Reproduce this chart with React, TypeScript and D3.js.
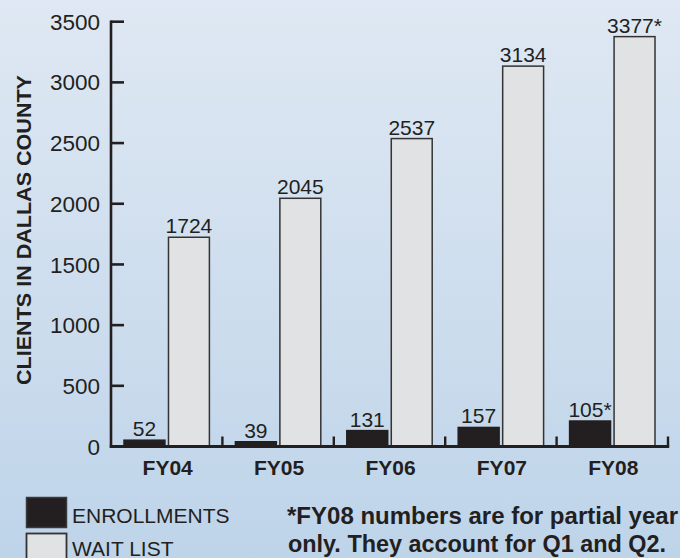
import React from "react";
import * as d3 from "d3";

const categories = ["FY04", "FY05", "FY06", "FY07", "FY08"];
const series = ["ENROLLMENTS", "WAIT LIST"];
const enrollmentBars = [52, 39, 131, 157, 210];
const enrollmentLabels = ["52", "39", "131", "157", "105*"];
const waitListBars = [1724, 2045, 2537, 3134, 3377];
const waitListLabels = ["1724", "2045", "2537", "3134", "3377*"];
const yTicks = [0, 500, 1000, 1500, 2000, 2500, 3000, 3500];
const yTitle = "CLIENTS IN DALLAS COUNTY";
const footnote = ["*FY08 numbers are for partial year", "only. They account for Q1 and Q2."];

const W = 680;
const H = 558;
const FONT = "'Liberation Sans', Arial, Helvetica, sans-serif";
const INK = "#231f20";
const LIGHT = "#e1e2e4";

export default function App() {
  const x0 = 111;
  const x1 = 668;
  const yBase = 446.5;
  const yTop = 21.7;

  const y = d3.scaleLinear().domain([0, 3500]).range([yBase, yTop]);
  const xBand = d3.scaleBand().domain(categories).range([x0, x1]).paddingInner(0).paddingOuter(0);
  const bw = xBand.bandwidth();
  const inner = d3.scaleBand().domain(series).range([13, bw - 13]).paddingInner(0.08).paddingOuter(0);
  const barW = inner.bandwidth();

  const data = categories.map((c, i) => ({
    c,
    vals: [
      { s: series[0], v: enrollmentBars[i], label: enrollmentLabels[i] },
      { s: series[1], v: waitListBars[i], label: waitListLabels[i] },
    ],
  }));

  const boundaries = categories.map((c) => (xBand(c) as number) + bw);

  return (
    <svg
      width={W}
      height={H}
      viewBox={`0 0 ${W} ${H}`}
      style={{ position: "absolute", left: 0, top: 0, display: "block" }}
      fontFamily={FONT}
    >
      <defs>
        <linearGradient id="bg" x1="0" y1="0" x2="0" y2="1">
          <stop offset="0" stopColor="#dfe8f3" />
          <stop offset="1" stopColor="#bed4e9" />
        </linearGradient>
      </defs>
      <rect x={0} y={0} width={W} height={H} fill="url(#bg)" />

      {/* bars */}
      {data.map((d) => (
        <g key={d.c} transform={`translate(${xBand(d.c)},0)`}>
          {d.vals.map((b, j) => {
            const bx = inner(b.s) as number;
            const top = y(b.v);
            return (
              <g key={b.s}>
                <rect
                  x={bx}
                  y={top}
                  width={barW}
                  height={yBase - top}
                  fill={j === 0 ? INK : LIGHT}
                  stroke={j === 0 ? INK : "#333"}
                  strokeWidth={1.5}
                />
                <text
                  x={bx + barW / 2}
                  y={top - 4}
                  textAnchor="middle"
                  fontSize={21}
                  fill={INK}
                >
                  {b.label}
                </text>
              </g>
            );
          })}
        </g>
      ))}

      {/* y axis */}
      <line x1={x0} x2={x0} y1={yTop - 1.2} y2={yBase + 1.2} stroke={INK} strokeWidth={2.6} />
      {yTicks.map((t) => (
        <g key={t}>
          <line x1={x0} x2={x0 + 13} y1={y(t)} y2={y(t)} stroke={INK} strokeWidth={2.6} />
          <text x={100} y={y(t)} dy="0.36em" textAnchor="end" fontSize={22.5} fill={INK}>
            {t}
          </text>
        </g>
      ))}

      {/* x axis */}
      <line x1={x0 - 1.2} x2={x1 + 1.2} y1={yBase} y2={yBase} stroke={INK} strokeWidth={2.8} />
      {boundaries.map((bx, i) => (
        <line key={i} x1={bx} x2={bx} y1={yBase} y2={yBase - 10} stroke={INK} strokeWidth={2.4} />
      ))}
      {categories.map((c) => (
        <text
          key={c}
          x={(xBand(c) as number) + bw / 2 + 1}
          y={475}
          textAnchor="middle"
          fontSize={21}
          fontWeight="bold"
          fill={INK}
        >
          {c}
        </text>
      ))}

      {/* y title */}
      <text
        transform="translate(31,230) rotate(-90)"
        textAnchor="middle"
        fontSize={21}
        fontWeight="bold"
        fill={INK}
        textLength={310}
        lengthAdjust="spacingAndGlyphs"
      >
        {yTitle}
      </text>

      {/* legend */}
      <rect x={26.5} y={497.5} width={40} height={30} fill={INK} stroke="#3a3a3a" strokeWidth={1.5} />
      <text x={72} y={523} fontSize={21} fill={INK}>
        {series[0]}
      </text>
      <rect x={26.5} y={533.5} width={40} height={30} fill={LIGHT} stroke="#333" strokeWidth={1.8} />
      <text x={72} y={555.5} fontSize={21} fill={INK}>
        {series[1]}
      </text>

      {/* footnote */}
      <text x={287} y={524} fontSize={23} fontWeight="bold" fill={INK} textLength={391} lengthAdjust="spacingAndGlyphs">
        {footnote[0]}
      </text>
      <text x={288} y={552} fontSize={23} fontWeight="bold" fill={INK} textLength={378} lengthAdjust="spacingAndGlyphs">
        {footnote[1]}
      </text>
    </svg>
  );
}
